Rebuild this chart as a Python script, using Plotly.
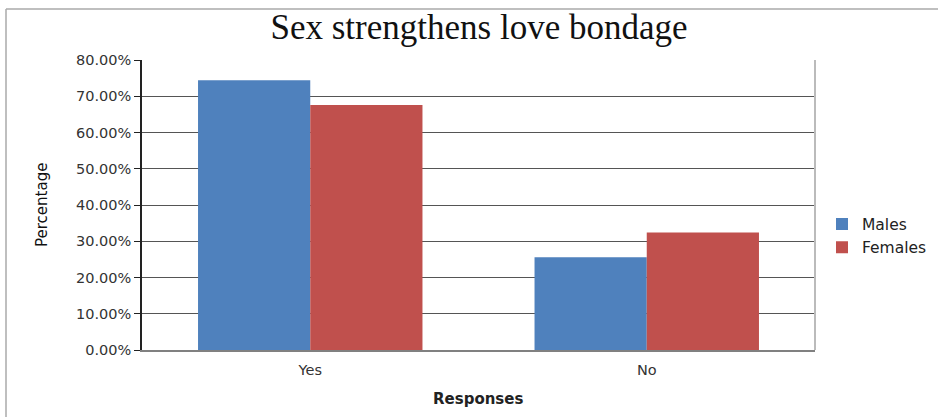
import plotly.graph_objects as go

categories = ["Yes", "No"]
males = [0.744, 0.256]
females = [0.676, 0.324]
y_ticks = [0, 0.1, 0.2, 0.3, 0.4, 0.5, 0.6, 0.7, 0.8]

W, H = 938, 417
L, R, T, B = 142, 123, 60, 67
pw, ph = W - L - R, H - T - B

fig = go.Figure()
fig.add_trace(go.Bar(name="Males", x=categories, y=males, marker_color="#4F81BD",
                     marker_line_width=0))
fig.add_trace(go.Bar(name="Females", x=categories, y=females, marker_color="#C0504D",
                     marker_line_width=0))

tick_font = dict(family="DejaVu Sans", size=14.5, color="#333333")

fig.update_layout(
    width=W, height=H,
    margin=dict(l=L, r=R, t=T, b=B, autoexpand=False),
    paper_bgcolor="white", plot_bgcolor="white",
    barmode="group", bargap=0.333, bargroupgap=0,
    title=dict(text="Sex strengthens love bondage", x=479 / W, xanchor="center",
               y=1 - 27 / H, yanchor="middle", yref="container",
               font=dict(family="Liberation Serif", size=35, color="#111111")),
    showlegend=True,
    legend=dict(x=(822 - L) / pw, xanchor="left", y=(350 - 236) / ph, yanchor="middle",
                font=dict(family="DejaVu Sans", size=15.5, color="#222222"),
                tracegroupgap=0, itemwidth=30, bgcolor="rgba(0,0,0,0)"),
    xaxis=dict(showgrid=False, showline=True, linecolor="#808080", linewidth=2,
               ticks="", tickfont=tick_font, range=[-0.5, 1.5], ticklabelstandoff=6),
    yaxis=dict(range=[0, 0.8], tickvals=y_ticks, tickformat=".2%",
               showgrid=True, gridcolor="#555555", gridwidth=1.3,
               showline=True, linecolor="#222222", linewidth=1.5,
               ticks="outside", ticklen=6, tickcolor="#222222", tickwidth=1.3,
               tickfont=tick_font, zeroline=False),
)

fig.add_annotation(text="Percentage", textangle=-90, xref="paper", yref="paper",
                   x=(42 - L) / pw, y=(350 - 205) / ph, xanchor="center", yanchor="middle",
                   showarrow=False,
                   font=dict(family="DejaVu Sans", size=15, color="#111111"))
fig.add_annotation(text="<b>Responses</b>", xref="paper", yref="paper",
                   x=(478 - L) / pw, y=(350 - 399) / ph, xanchor="center", yanchor="middle",
                   showarrow=False,
                   font=dict(family="DejaVu Sans", size=15, color="#222222"))

# plot area right border
fig.add_shape(type="line", xref="paper", yref="paper", x0=1, x1=1, y0=0, y1=1,
              line=dict(color="#BBBBBB", width=2))
# outer frame (top and left)
fig.add_shape(type="line", xref="paper", yref="paper",
              x0=(6 - L) / pw, x1=(W - L) / pw, y0=(350 - 9) / ph, y1=(350 - 9) / ph,
              line=dict(color="#AAAAAA", width=1.5))
fig.add_shape(type="line", xref="paper", yref="paper",
              x0=(6 - L) / pw, x1=(6 - L) / pw, y0=(350 - 9) / ph, y1=(350 - H) / ph,
              line=dict(color="#AAAAAA", width=1.5))

fig.write_html("out.html")
